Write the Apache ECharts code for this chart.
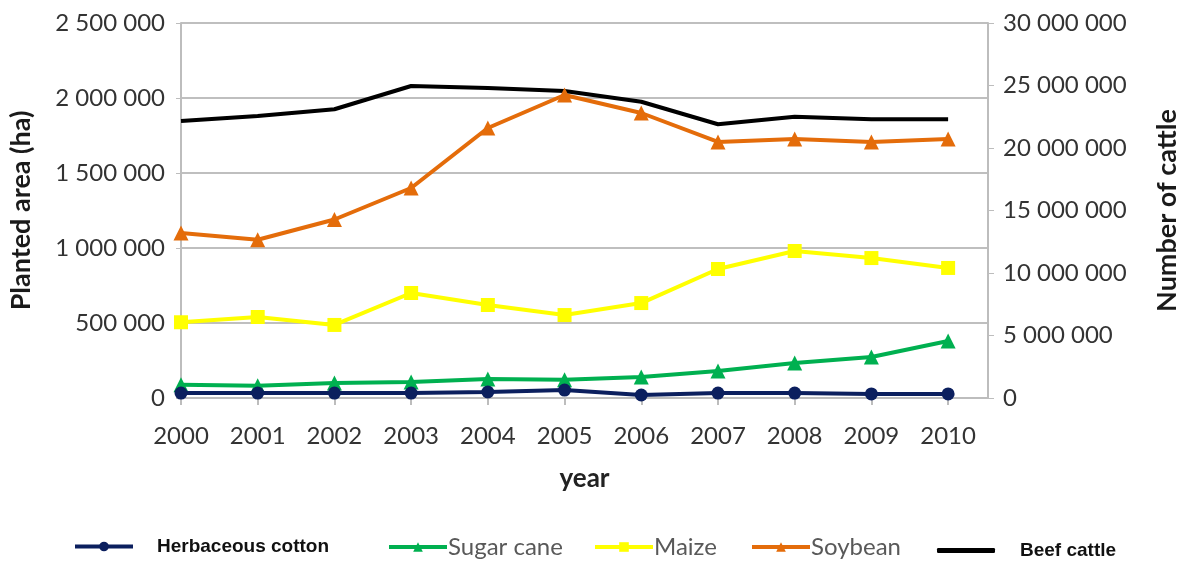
<!DOCTYPE html>
<html>
<head>
    <meta charset="utf-8">
    <title>Planted area and cattle</title>
    <script src="https://cdn.jsdelivr.net/npm/echarts@6/dist/echarts.min.js"></script>
</head>
<body style="margin:0">
    <div id="main" style="width: 1184px;height:564px;"></div>
    <script type="text/javascript">
        var years = [2000, 2001, 2002, 2003, 2004, 2005, 2006, 2007, 2008, 2009, 2010];
        var cotton = [33000, 33000, 33000, 33000, 40000, 53000, 20000, 33000, 33000, 27000, 27000];
        var sugarCane = [88000, 82000, 100000, 107000, 127000, 122000, 140000, 180000, 233000, 273000, 380000];
        var maize = [505000, 540000, 487000, 700000, 620000, 553000, 633000, 860000, 980000, 933000, 867000];
        var soybean = [1100000, 1055000, 1190000, 1400000, 1800000, 2020000, 1900000, 1707000, 1727000, 1707000, 1727000];
        var beefCattle = [22160000, 22560000, 23100000, 24960000, 24800000, 24560000, 23700000, 21900000, 22500000, 22300000, 22300000];

        var myChart = echarts.init(document.getElementById('main'));

        function spaced(v) {
            return String(v).replace(/\B(?=(\d{3})+(?!\d))/g, ' ');
        }
        function pairs(arr) {
            return years.map(function (y, i) { return [y, arr[i]]; });
        }

        var font = 'Lato, "Open Sans", sans-serif';
        var boldLegend = { fontFamily: '"Liberation Sans", Arial', fontWeight: 'bold', fontSize: 19, color: '#111' };
        var greyLegend = { fontFamily: font, fontSize: 24, color: '#595959' };
        var legendLine = { width: 4 };

        option = {
            backgroundColor: '#fff',
            animation: false,
            grid: { left: 181, right: 196, top: 23, bottom: 166, outerBoundsMode: 'none' },
            legend: [
                { data: ['Herbaceous cotton'], left: 73, top: 537, itemWidth: 58, itemHeight: 12, padding: 0, lineStyle: legendLine, textStyle: Object.assign({ padding: [0, 0, 0, 19] }, boldLegend) },
                { data: ['Sugar cane'], left: 387, top: 535, itemWidth: 58, itemHeight: 12, padding: 0, lineStyle: legendLine, textStyle: Object.assign({ padding: [0, 0, 0, -4] }, greyLegend) },
                { data: ['Maize'], left: 593, top: 535, itemWidth: 58, itemHeight: 12, padding: 0, lineStyle: legendLine, textStyle: Object.assign({ padding: [0, 0, 0, -4] }, greyLegend) },
                { data: ['Soybean'], left: 750, top: 535, itemWidth: 58, itemHeight: 12, padding: 0, lineStyle: legendLine, textStyle: Object.assign({ padding: [0, 0, 0, -4] }, greyLegend) },
                { data: [{ name: 'Beef cattle', icon: 'roundRect' }], left: 937, top: 541, itemWidth: 58, itemHeight: 5, padding: 0, textStyle: Object.assign({ padding: [0, 0, 0, 20] }, boldLegend) }
            ],
            xAxis: {
                type: 'value',
                min: 2000,
                max: 2010.52,
                interval: 1,
                name: 'year',
                nameLocation: 'middle',
                nameGap: 68,
                nameTextStyle: { fontFamily: font, fontWeight: 'bold', fontSize: 26, color: '#222' },
                axisLine: { lineStyle: { color: '#bdbdbd', width: 2 } },
                axisTick: { show: true, length: 7, lineStyle: { color: '#bdbdbd', width: 2 } },
                splitLine: { show: false },
                axisLabel: {
                    margin: 26,
                    fontFamily: font,
                    fontSize: 24,
                    color: '#333',
                    showMaxLabel: false,
                    formatter: function (v) {
                        return (Math.round(v) === v && v <= 2010) ? String(v) : '';
                    }
                }
            },
            yAxis: [{
                type: 'value',
                min: 0,
                max: 2500000,
                interval: 500000,
                name: 'Planted area (ha)',
                nameLocation: 'middle',
                nameGap: 146,
                nameRotate: 90,
                nameTextStyle: { fontFamily: font, fontWeight: 'bold', fontSize: 27, color: '#1a1a1a' },
                axisLine: { show: true, lineStyle: { color: '#bdbdbd', width: 2 } },
                axisTick: { show: true, length: 5, lineStyle: { color: '#bdbdbd' } },
                splitLine: { lineStyle: { color: '#bfbfbf', width: 2 } },
                axisLabel: { margin: 16, fontFamily: font, fontSize: 24, color: '#333', formatter: spaced }
            }, {
                type: 'value',
                min: 0,
                max: 30000000,
                interval: 5000000,
                position: 'right',
                name: 'Number of cattle',
                nameLocation: 'middle',
                nameGap: 166,
                nameRotate: 90,
                nameTextStyle: { fontFamily: font, fontWeight: 'bold', fontSize: 27, color: '#1a1a1a' },
                axisLine: { show: true, lineStyle: { color: '#bdbdbd', width: 2 } },
                axisTick: { show: true, length: 6, lineStyle: { color: '#bdbdbd' } },
                splitLine: { show: false },
                axisLabel: { margin: 15, fontFamily: font, fontSize: 24, color: '#333', formatter: spaced }
            }],
            series: [{
                name: 'Herbaceous cotton',
                type: 'line',
                data: pairs(cotton),
                symbol: 'circle',
                symbolSize: 13,
                color: '#0b1f5e',
                lineStyle: { width: 4 },
                z: 5
            }, {
                name: 'Sugar cane',
                type: 'line',
                data: pairs(sugarCane),
                symbol: 'triangle',
                symbolSize: 15,
                color: '#00b050',
                lineStyle: { width: 4 }
            }, {
                name: 'Maize',
                type: 'line',
                data: pairs(maize),
                symbol: 'rect',
                symbolSize: 14,
                color: '#ffff00',
                lineStyle: { width: 4 }
            }, {
                name: 'Soybean',
                type: 'line',
                data: pairs(soybean),
                symbol: 'triangle',
                symbolSize: 15,
                color: '#e46c0a',
                lineStyle: { width: 4 }
            }, {
                name: 'Beef cattle',
                type: 'line',
                yAxisIndex: 1,
                data: pairs(beefCattle),
                symbol: 'none',
                color: '#000',
                lineStyle: { width: 4 }
            }]
        };

        myChart.setOption(option);
    </script>
</body>
</html>
